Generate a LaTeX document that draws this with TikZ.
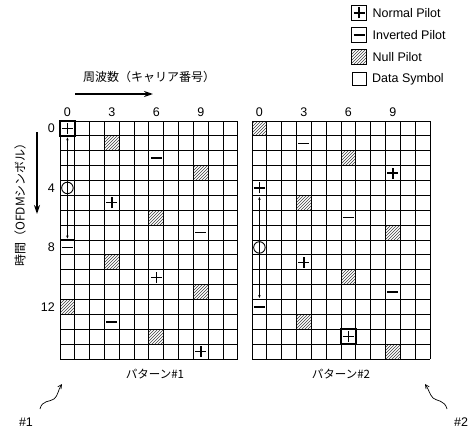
\documentclass[tikz,border=0pt]{standalone}
\usepackage{fontspec}
\setmainfont{Liberation Sans}
\newfontfamily\jpfont{Noto Sans CJK JP}
\usepackage{tikz}
\usetikzlibrary{arrows.meta, positioning, patterns}

\newcommand{\cw}{14.833}
\newcommand{\ch}{14.875}

\begin{document}
\begin{tikzpicture}[x=1pt, y=1pt,
  cell/.style={rectangle, minimum width=\cw pt, minimum height=\ch pt,
               inner sep=0pt, outer sep=0pt},
  nullp/.style={cell, pattern=north east lines, pattern color=black!75},
  plusp/.style={cell, path picture={
      \draw[line width=1.3pt] ([xshift=-5.5pt]path picture bounding box.center)
        -- ([xshift=5.5pt]path picture bounding box.center);
      \draw[line width=1.3pt] ([yshift=-5.5pt]path picture bounding box.center)
        -- ([yshift=5.5pt]path picture bounding box.center);}},
  minusp/.style={cell, path picture={
      \draw[line width=1.5pt] ([xshift=-5.5pt]path picture bounding box.center)
        -- ([xshift=5.5pt]path picture bounding box.center);}},
  circp/.style={circle, draw, line width=0.9pt, minimum size=11.5pt, inner sep=0pt},
  lgbox/.style={cell, draw, line width=1pt, minimum width=14pt, minimum height=13pt},
  gridline/.style={line width=1pt},
  lbl/.style={font=\fontsize{12.5}{14}\selectfont, inner sep=1pt},
  jp/.style={font=\jpfont\fontsize{12}{14}\selectfont, inner sep=1pt},
  bigarr/.style={-{Stealth[length=9pt, width=6pt]}, line width=2pt},
  pairarr/.style={{Stealth[length=3pt, width=2.5pt]}-{Stealth[length=3pt, width=2.5pt]},
                  line width=0.6pt, shorten <=1.5pt, shorten >=1.5pt},
  wavy/.style={-{Straight Barb[length=4pt, width=4pt]}, line width=0.7pt}
]
\useasboundingbox (0,0) rectangle (474,-436);

% null pilots (drawn below the grid)
\foreach \r/\c in {1/3,3/9,6/6,9/3,11/9,12/0,14/6}
  \node[nullp] (A\r) at ({60+(\c+0.5)*\cw},{-121-(\r+0.5)*\ch}) {};
\foreach \r/\c in {0/0,2/6,5/3,7/9,10/6,13/3,15/9}
  \node[nullp] (B\r) at ({252+(\c+0.5)*\cw},{-121-(\r+0.5)*\ch}) {};

% grids
\foreach \ox in {60,252} {
  \foreach \i in {0,...,12}
    \draw[gridline] ({\ox+\i*\cw},-121) -- ++(0,{-16*\ch});
  \foreach \j in {0,...,16}
    \draw[gridline] (\ox,{-121-\j*\ch}) -- ++({12*\cw},0);
}

% pattern #1
\foreach \r/\c in {0/0,5/3,10/6,15/9}
  \node[plusp] (A\r) at ({60+(\c+0.5)*\cw},{-121-(\r+0.5)*\ch}) {};
\foreach \r/\c in {2/6,7/9,8/0,13/3}
  \node[minusp] (A\r) at ({60+(\c+0.5)*\cw},{-121-(\r+0.5)*\ch}) {};
\node[circp] (A4) at ({60+0.5*\cw},{-121-4.5*\ch}) {};
\draw[line width=1.8pt] (A0.south west) rectangle (A0.north east);
\draw[line width=1.8pt] (A8.north west) -- (A8.north east);
\draw[pairarr] (A0.south) -- (A8.north);

% pattern #2
\foreach \r/\c in {3/9,4/0,9/3,14/6}
  \node[plusp] (B\r) at ({252+(\c+0.5)*\cw},{-121-(\r+0.5)*\ch}) {};
\foreach \r/\c in {1/3,6/6,11/9,12/0}
  \node[minusp] (B\r) at ({252+(\c+0.5)*\cw},{-121-(\r+0.5)*\ch}) {};
\node[circp] (B8) at ({252+0.5*\cw},{-121-8.5*\ch}) {};
\draw[line width=1.8pt] (B14.south west) rectangle (B14.north east);
\draw[pairarr] (B4.south) -- (B12.north);

% carrier and symbol numbers
\foreach \c in {0,3,6,9} {
  \node[lbl] (ca\c) at ({60+(\c+0.5)*\cw},-112) {\c};
  \node[lbl] (cb\c) at ({252+(\c+0.5)*\cw},-112) {\c};
}
\foreach \r in {0,4,8,12}
  \node[lbl, anchor=east] (rl\r) at (56,{-121-(\r+0.5)*\ch}) {\r};

% axis captions
\node[jp] (freq) at (149,-77) {周波数（キャリア番号）};
\coordinate (f0) at (75,-94);
\coordinate (f1) at (153,-94);
\draw[bigarr] (f0) -- (f1);
\node[jp, rotate=90] (time) at (20,-202) {時間（OFDMシンボル）};
\coordinate (t0) at (37,-132);
\coordinate (t1) at (37,-214);
\draw[bigarr] (t0) -- (t1);

\node[jp, font=\jpfont\fontsize{11.5}{13}\selectfont] (pat1) at (155,-374) {パターン\#1};
\node[jp, font=\jpfont\fontsize{11.5}{13}\selectfont] (pat2) at (341,-374) {パターン\#2};

% legend
\node[lgbox, plusp] (lg1) at (359,-13) {};
\node[lgbox, minusp] (lg2) at (359,-35) {};
\node[lgbox, nullp] (lg3) at (359,-57) {};
\node[lgbox] (lg4) at (359,-79) {};
\node[lbl, right=5pt of lg1] (lt1) {Normal Pilot};
\node[lbl, right=5pt of lg2] (lt2) {Inverted Pilot};
\node[lbl, right=5pt of lg3] (lt3) {Null Pilot};
\node[lbl, right=5pt of lg4] (lt4) {Data Symbol};

% reference marks
\node[lbl] (m1) at (26,-422) {\#1};
\node[lbl] (m2) at (461,-422) {\#2};
\coordinate (w1) at (40,-409);
\coordinate (w2) at (447,-409);
\draw[wavy] (w1) .. controls (42,-400) and (50,-402) .. (54,-399)
  .. controls (58,-396) and (58,-390) .. (62,-384);
\draw[wavy] (w2) .. controls (445,-400) and (436,-401) .. (433,-398)
  .. controls (430,-395) and (429,-390) .. (425,-384);
\end{tikzpicture}
\end{document}
